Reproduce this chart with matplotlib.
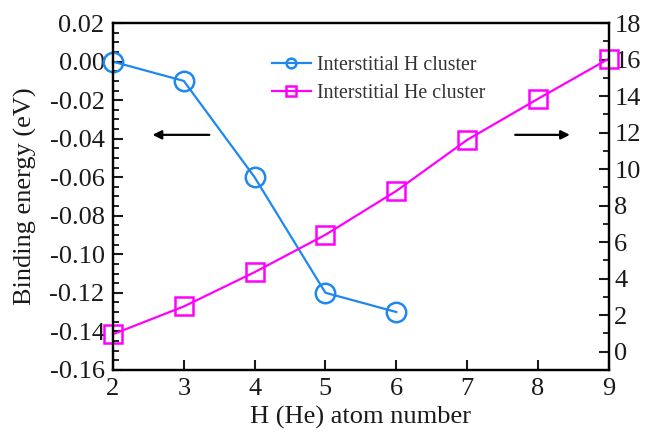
import numpy as np
import matplotlib.pyplot as plt
from matplotlib.ticker import MultipleLocator

# data
h_atoms = [2, 3, 4, 5, 6]
h_energy = [0.000, -0.010, -0.060, -0.120, -0.130]
he_atoms = [2, 3, 4, 5, 6, 7, 8, 9]
he_energy = [0.95, 2.47, 4.35, 6.4, 8.8, 11.6, 13.85, 16.05]

BLUE = '#1e88f0'
MAGENTA = '#ff00ff'

plt.rcParams['font.family'] = ['Liberation Serif', 'DejaVu Serif']

fig = plt.figure(figsize=(6.49, 4.45), dpi=100)
ax = fig.add_axes([0.174, 0.169, 0.764, 0.779])
ax2 = ax.twinx()

l1, = ax.plot(h_atoms, h_energy, '-o', color=BLUE, lw=1.6, ms=14,
              mfc='none', mew=1.8, label='Interstitial H cluster', clip_on=False)
l2, = ax2.plot(he_atoms, he_energy, '-s', color=MAGENTA, lw=1.6, ms=13,
               mfc='none', mew=1.8, label='Interstitial He cluster', clip_on=False)

ax.set_xlim(2, 9)
ax.set_ylim(-0.16, 0.02)
ax2.set_ylim(-1, 18)
ax.set_xticks(range(2, 10))
ax.yaxis.set_major_locator(MultipleLocator(0.02))
ax.yaxis.set_minor_locator(MultipleLocator(0.005))
ax.yaxis.set_major_formatter(plt.FuncFormatter(lambda v, p: f'{v:.2f}'))
ax2.yaxis.set_minor_locator(MultipleLocator(1))
ax2.set_yticks(range(0, 19, 2))

for a in (ax, ax2):
    a.tick_params(which='major', direction='in', length=7, width=1.5,
                  labelsize=19, colors='#1a1a1a')
    a.tick_params(which='minor', direction='in', length=4, width=1.2)
    for s in a.spines.values():
        s.set_linewidth(1.6)
ax.tick_params(axis='both', pad=6)
ax2.tick_params(axis='y', pad=4)

ax.set_xlabel('H (He) atom number', fontsize=19, color='#1a1a1a')
ax.set_ylabel('Binding energy (eV)', fontsize=19, color='#1a1a1a', labelpad=9)

# direction arrows
ax.annotate('', xy=(2.52, -0.038), xytext=(3.40, -0.038),
            arrowprops=dict(arrowstyle='-|>', color='black', lw=1.6,
                            mutation_scale=13))
ax.annotate('', xy=(8.49, -0.038), xytext=(7.64, -0.038),
            arrowprops=dict(arrowstyle='-|>', color='black', lw=1.6,
                            mutation_scale=13))

leg = ax.legend(handles=[l1, l2], loc='upper left',
                bbox_to_anchor=(0.32, 0.905), frameon=False, fontsize=14.3,
                markerscale=0.5, handlelength=2.0, handletextpad=0.3,
                borderpad=0, borderaxespad=0, labelspacing=0.45)
for t in leg.get_texts():
    t.set_color('#333333')
leg.set_zorder(5)

fig.savefig('out.png', dpi=100)
